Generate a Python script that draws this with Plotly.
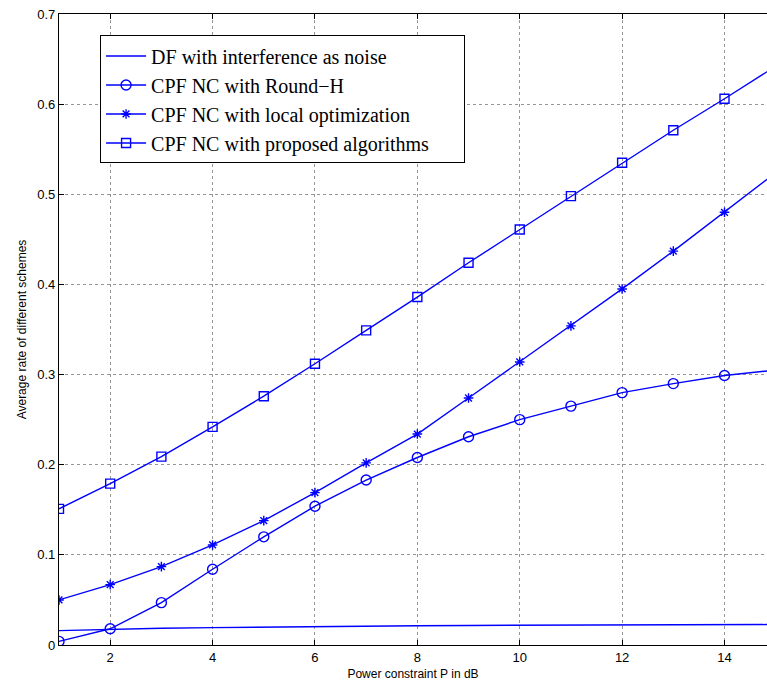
import plotly.graph_objects as go

# Power constraint P (dB)
power_db = [1, 2, 3, 4, 5, 6, 7, 8, 9, 10, 11, 12, 13, 14, 15]

# Average rate for each scheme
df_noise = [0.016, 0.0175, 0.0185, 0.0193, 0.0200, 0.0205, 0.0210, 0.0214,
            0.0217, 0.0220, 0.0222, 0.0224, 0.0225, 0.0226, 0.0227]
cpf_round_h = [0.004, 0.018, 0.047, 0.084, 0.120, 0.154, 0.183, 0.208,
               0.231, 0.250, 0.265, 0.280, 0.290, 0.299, 0.305]
cpf_local_opt = [0.050, 0.067, 0.087, 0.111, 0.138, 0.169, 0.202, 0.234,
                 0.274, 0.314, 0.354, 0.395, 0.437, 0.480, 0.524]
cpf_proposed = [0.151, 0.179, 0.209, 0.242, 0.276, 0.312, 0.349, 0.386,
                0.424, 0.461, 0.498, 0.535, 0.571, 0.606, 0.642]

x_ticks = [2, 4, 6, 8, 10, 12, 14]
y_ticks = [0, 0.1, 0.2, 0.3, 0.4, 0.5, 0.6, 0.7]
y_tick_text = ["0", "0.1", "0.2", "0.3", "0.4", "0.5", "0.6", "0.7"]

BLUE = "rgb(0,0,255)"
LINE_W = 1.4
PAD = "\u00a0" * 6  # widens the legend box on the right

series = [
    ("DF with interference as noise", df_noise, None, None),
    ("CPF NC with Round\u2212H", cpf_round_h, "circle-open", 10),
    ("CPF NC with local optimization", cpf_local_opt, "asterisk-open", 8),
    ("CPF NC with proposed algorithms" + PAD, cpf_proposed, "square-open", 9),
]

fig = go.Figure()
for name, values, symbol, size in series:
    kw = dict(mode="lines")
    if symbol:
        kw = dict(mode="lines+markers",
                  marker=dict(symbol=symbol, size=size, color=BLUE,
                              line=dict(color=BLUE, width=1.4)))
    fig.add_trace(go.Scatter(
        x=power_db, y=values, name=name,
        line=dict(color=BLUE, width=LINE_W), cliponaxis=True, **kw))

axis_common = dict(
    showline=True, linecolor="black", linewidth=1.2,
    ticks="inside", ticklen=5, tickcolor="black", tickwidth=1,
    showgrid=True, gridcolor="rgb(150,150,150)", gridwidth=1, griddash="dot",
    zeroline=False,
    tickfont=dict(family="Liberation Sans, Arial, sans-serif", size=13, color="black"),
    title_font=dict(family="Liberation Sans, Arial, sans-serif", size=12, color="black"),
)

fig.update_xaxes(
    range=[1, 14.83], tickvals=x_ticks, mirror="ticks",
    title_text="Power constraint P in dB", title_standoff=5,
    **axis_common)
fig.update_yaxes(
    range=[0, 0.7], tickvals=y_ticks, ticktext=y_tick_text, mirror=False,
    title_text="Average rate of different schemes", title_standoff=8,
    **axis_common)

fig.update_layout(
    width=767, height=685,
    margin=dict(l=59, r=0, t=14, b=40),
    paper_bgcolor="white", plot_bgcolor="white",
    showlegend=True,
    legend=dict(
        x=0.058, y=0.966, xanchor="left", yanchor="top",
        bgcolor="white", bordercolor="black", borderwidth=1,
        font=dict(family="Liberation Serif, Times New Roman, serif", size=20, color="black"),
        itemwidth=40,
    ),
)

fig.write_html("out.html")
